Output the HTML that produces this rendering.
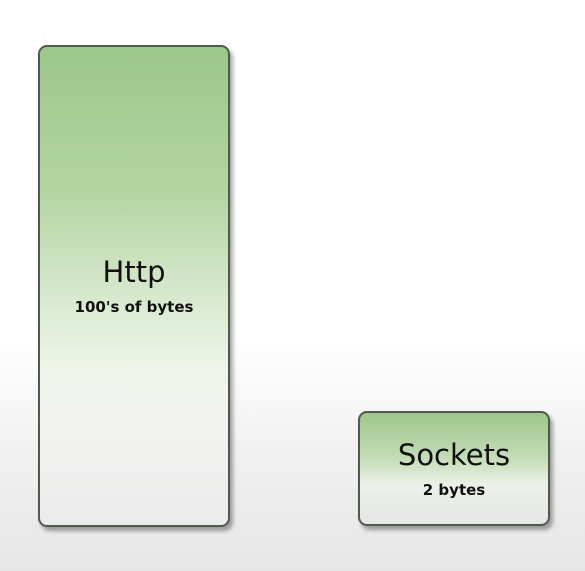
<!DOCTYPE html>
<html><head><meta charset="utf-8"><style>
html,body{margin:0;padding:0}
body{width:585px;height:571px;position:relative;overflow:hidden;
background:linear-gradient(to bottom,#ffffff 0px,#ffffff 340px,#f1f1f1 450px,#e6e6e6 571px);
font-family:"Comic Sans MS","DejaVu Sans",sans-serif}
.bar{position:absolute;box-sizing:border-box;border:2px solid #4f5a4c;border-radius:9px;
box-shadow:3px 4px 4px rgba(0,0,0,0.35);text-align:center;color:#111}
.lbl{position:absolute;left:0;right:0;font-size:29px;line-height:1}
.sub{position:absolute;left:0;right:0;font-size:15px;font-weight:bold;line-height:1}
</style></head><body>
<svg style="position:absolute;left:116px;top:224px" width="16" height="24" viewBox="0 0 16 24"><path d="M1 1 L1 18 L5 14 L8 21 L11 20 L8 13 L13 13 Z" fill="#fff" stroke="#333" stroke-width="1"/></svg>
<script>
const categories=["Http","Sockets"];
const values=[100,2];
const valueLabels=["100's of bytes","2 bytes"];
const baseY=[527,526];
const xLeft=[38,358];
const barW=192;
// log-like height scale
function yScale(v){return 50+216*Math.log10(v);}
const grads=[
"linear-gradient(to bottom,#9dc78a 0%,#b2d5a2 30%,#dcebd3 55%,#eef4ea 68%,#f2f3f0 78%,#ebebeb 100%)",
"linear-gradient(to bottom,#9dc78a 0%,#c3dcb6 40%,#ecf1e8 65%,#e6e6e6 100%)"];
categories.forEach((c,i)=>{
 const h=yScale(values[i]);
 const b=document.createElement('div');
 b.className='bar';
 
 
 b.style.left=xLeft[i]+'px';b.style.top=(baseY[i]-h)+'px';
 b.style.width=barW+'px';b.style.height=h+'px';
 b.style.background=grads[i];
 const cy=i===0?h*0.47:h*0.38;
 const l=document.createElement('div');
 l.className='lbl';
 
 
 l.style.top=(cy-16)+'px';l.textContent=c;
 const s=document.createElement('div');
 s.className='sub';
 
 
 s.style.top=(cy+26)+'px';s.textContent=valueLabels[i];
 b.appendChild(l);b.appendChild(s);
 document.body.appendChild(b);
});
</script>
</body></html>
